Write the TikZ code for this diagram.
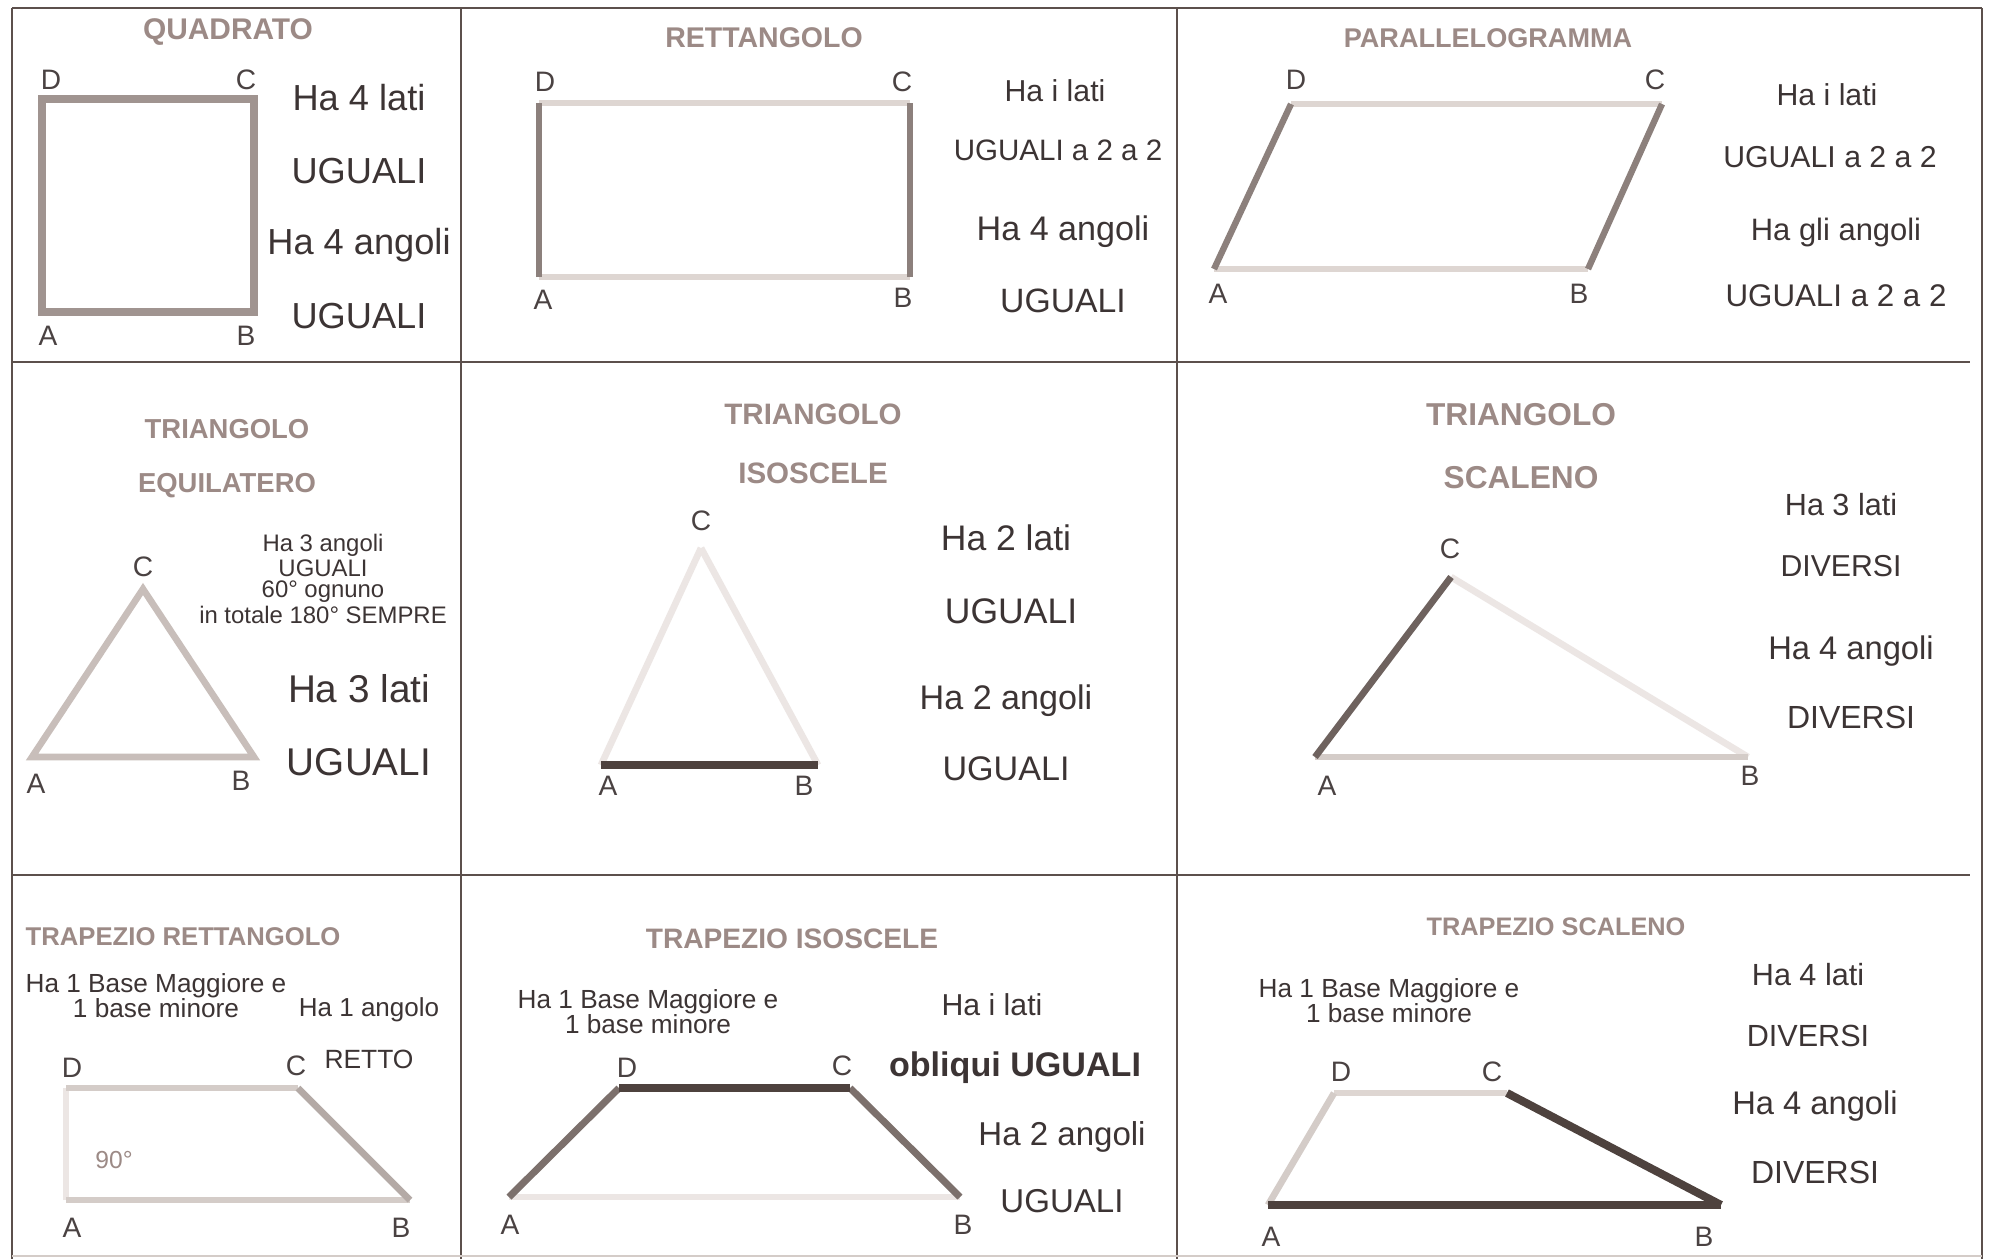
\documentclass[tikz,border=0pt]{standalone}
\usepackage{fontspec}
\setmainfont{Liberation Sans}
\definecolor{gridc}{HTML}{5C504C}
\definecolor{titlec}{HTML}{9C8A86}
\definecolor{bodyc}{HTML}{3C3434}
\definecolor{labc}{HTML}{4A4242}
\definecolor{sqc}{HTML}{A09490}
\definecolor{lite}{HTML}{DED6D2}
\definecolor{vlite}{HTML}{ECE6E4}
\definecolor{midc}{HTML}{8C807C}
\definecolor{eqc}{HTML}{C8BEBA}
\definecolor{darkc}{HTML}{4E423E}
\definecolor{dmc}{HTML}{6E625E}
\definecolor{lmc}{HTML}{D4CCC8}
\definecolor{mlc}{HTML}{B4AAA6}
\definecolor{tmc}{HTML}{7C706C}
\tikzset{
  gridline/.style={draw=gridc, line width=0.7pt},
  ttl/.style={text=titlec, font=\bfseries\fontsize{#1}{#1}\selectfont, inner sep=0pt},
  txt/.style={text=bodyc, font=\fontsize{#1}{#1}\selectfont, inner sep=0pt},
  lab/.style={text=labc, font=\fontsize{8}{8}\selectfont, inner sep=0pt},
  edge/.style={line width=#1, line cap=butt},
}
\begin{document}
\begin{tikzpicture}[x=0.01cm,y=-0.01cm]
\useasboundingbox (0,0) rectangle (1989,1259);
\fill[white] (0,0) rectangle (1989,1259);
% grid
\coordinate (g00) at (12,8); \coordinate (g30) at (1982,8);
\coordinate (g03) at (12,1259); \coordinate (g33) at (1982,1259);
\coordinate (v1t) at (461,8); \coordinate (v1b) at (461,1259);
\coordinate (v2t) at (1177,8); \coordinate (v2b) at (1177,1259);
\coordinate (h1l) at (12,362); \coordinate (h1r) at (1970,362);
\coordinate (h2l) at (12,875); \coordinate (h2r) at (1970,875);
\draw[gridline] (g00) -- (g30);
\draw[gridline] (g00) -- (g03);
\draw[gridline] (g30) -- (g33);
\draw[gridline] (v1t) -- (v1b);
\draw[gridline] (v2t) -- (v2b);
\draw[gridline] (h1l) -- (h1r);
\draw[gridline] (h2l) -- (h2r);
\draw[draw=lmc, line width=0.5pt] (12,1256) -- (1982,1256);

% ===== Cell 1: QUADRATO =====
\node[ttl=8.5] (t1) at (228,32) {QUADRATO};
\coordinate (qA) at (42,312); \coordinate (qB) at (254,312);
\coordinate (qC) at (254,99); \coordinate (qD) at (42,99);
\draw[draw=sqc, line width=2.5pt, line join=miter] (qA) -- (qB) -- (qC) -- (qD) -- cycle;
\node[lab] (qlD) at (51,80) {D};
\node[lab] (qlC) at (246,80) {C};
\node[lab] (qlA) at (48,336) {A};
\node[lab] (qlB) at (246,336) {B};
\node[txt=10.3] (q1) at (359,98) {Ha 4 lati};
\node[txt=10.3] (q2) at (359,171) {UGUALI};
\node[txt=10.3] (q3) at (359,245) {Ha 4 angoli};
\node[txt=10.3] (q4) at (359,316) {UGUALI};

% ===== Cell 2: RETTANGOLO =====
\node[ttl=8.1] (t2) at (764,38) {RETTANGOLO};
\coordinate (rA) at (539,277); \coordinate (rB) at (910,277);
\coordinate (rC) at (910,103); \coordinate (rD) at (539,103);
\draw[draw=lite, edge=1.9pt] (rD) -- (rC);
\draw[draw=lite, edge=1.9pt] (rA) -- (rB);
\draw[draw=midc, edge=1.8pt] (rA) -- (rD);
\draw[draw=midc, edge=1.8pt] (rB) -- (rC);
\node[lab] (rlD) at (545,82) {D};
\node[lab] (rlC) at (902,82) {C};
\node[lab] (rlA) at (543,300) {A};
\node[lab] (rlB) at (903,298) {B};
\node[txt=8.6] (r1) at (1055,91) {Ha i lati};
\node[txt=8.4] (r2) at (1058,150) {UGUALI a 2 a 2};
\node[txt=9.7] (r3) at (1063,232) {Ha 4 angoli};
\node[txt=9.6] (r4) at (1063,301) {UGUALI};

% ===== Cell 3: PARALLELOGRAMMA =====
\node[ttl=7.7] (t3) at (1488,38) {PARALLELOGRAMMA};
\coordinate (pA) at (1214,269); \coordinate (pB) at (1588,269);
\coordinate (pC) at (1662,104); \coordinate (pD) at (1291,104);
\draw[draw=lite, edge=1.9pt] (pD) -- (pC);
\draw[draw=lite, edge=1.9pt] (pA) -- (pB);
\draw[draw=midc, edge=1.8pt] (pA) -- (pD);
\draw[draw=midc, edge=1.8pt] (pB) -- (pC);
\node[lab] (plD) at (1296,80) {D};
\node[lab] (plC) at (1655,80) {C};
\node[lab] (plA) at (1218,294) {A};
\node[lab] (plB) at (1579,294) {B};
\node[txt=8.6] (p1) at (1827,95) {Ha i lati};
\node[txt=8.6] (p2) at (1830,157) {UGUALI a 2 a 2};
\node[txt=8.8] (p3) at (1836,232) {Ha gli angoli};
\node[txt=8.9] (p4) at (1836,296) {UGUALI a 2 a 2};

% ===== Cell 4: TRIANGOLO EQUILATERO =====
\node[ttl=7.8] (t4a) at (227,429) {TRIANGOLO};
\node[ttl=7.8] (t4b) at (227,486) {EQUILATERO};
\coordinate (eA) at (32,757); \coordinate (eB) at (254,757); \coordinate (eC) at (143,589);
\draw[draw=eqc, line width=1.9pt, line join=miter] (eA) -- (eB) -- (eC) -- cycle;
\node[lab] (elC) at (143,567) {C};
\node[lab] (elA) at (36,784) {A};
\node[lab] (elB) at (241,781) {B};
\node[txt=6.8, align=center, font=\fontsize{6.8}{6.1}\selectfont] (e0) at (323,579)
  {Ha 3 angoli\\UGUALI\\60° ognuno\\in totale 180° SEMPRE};
\node[txt=11] (e1) at (359,689) {Ha 3 lati};
\node[txt=11] (e2) at (359,762) {UGUALI};

% ===== Cell 5: TRIANGOLO ISOSCELE =====
\node[ttl=8.4] (t5a) at (813,414) {TRIANGOLO};
\node[ttl=8.4] (t5b) at (813,473) {ISOSCELE};
\coordinate (iA) at (601,765); \coordinate (iB) at (818,765); \coordinate (iC) at (701,548);
\draw[draw=vlite, edge=1.9pt] (iA) -- (iC);
\draw[draw=vlite, edge=1.9pt] (iC) -- (iB);
\draw[draw=darkc, edge=2.4pt] (iA) -- (iB);
\node[lab] (ilC) at (701,521) {C};
\node[lab] (ilA) at (608,786) {A};
\node[lab] (ilB) at (804,786) {B};
\node[txt=10.1] (i1) at (1006,538) {Ha 2 lati};
\node[txt=10.1] (i2) at (1011,611) {UGUALI};
\node[txt=9.7] (i3) at (1006,701) {Ha 2 angoli};
\node[txt=9.7] (i4) at (1006,769) {UGUALI};

% ===== Cell 6: TRIANGOLO SCALENO =====
\node[ttl=9] (t6a) at (1521,415) {TRIANGOLO};
\node[ttl=9] (t6b) at (1521,478) {SCALENO};
\coordinate (sA) at (1315,757); \coordinate (sB) at (1748,757); \coordinate (sC) at (1451,577);
\draw[draw=vlite, edge=1.9pt] (sC) -- (sB);
\draw[draw=lmc, edge=1.9pt] (sA) -- (sB);
\draw[draw=dmc, edge=1.9pt] (sA) -- (sC);
\node[lab] (slC) at (1450,549) {C};
\node[lab] (slA) at (1327,786) {A};
\node[lab] (slB) at (1750,776) {B};
\node[txt=8.7] (s1) at (1841,505) {Ha 3 lati};
\node[txt=8.6] (s2) at (1841,566) {DIVERSI};
\node[txt=9.3] (s3) at (1851,651) {Ha 4 angoli};
\node[txt=9.1] (s4) at (1851,717) {DIVERSI};

% ===== Cell 7: TRAPEZIO RETTANGOLO =====
\node[ttl=7.3, anchor=west] (t7) at (25,937) {TRAPEZIO RETTANGOLO};
\node[txt=7.45, align=center, font=\fontsize{7.45}{7.1}\selectfont] (a0) at (156,996)
  {Ha 1 Base Maggiore e\\1 base minore};
\node[txt=7.4] (a1) at (369,1010) {Ha 1 angolo};
\node[txt=7.5] (a2) at (369,1059) {RETTO};
\coordinate (aA) at (66,1200); \coordinate (aB) at (410,1200);
\coordinate (aC) at (298,1088); \coordinate (aD) at (66,1088);
\draw[draw=vlite, edge=1.9pt] (aA) -- (aD);
\draw[draw=lmc, edge=1.9pt] (aD) -- (aC);
\draw[draw=lmc, edge=1.9pt] (aA) -- (aB);
\draw[draw=mlc, edge=1.9pt] (aC) -- (aB);
\node[text=titlec, font=\fontsize{7}{7}\selectfont, inner sep=0pt] (a90) at (114,1160) {90°};
\node[lab] (alD) at (72,1068) {D};
\node[lab] (alC) at (296,1066) {C};
\node[lab] (alA) at (72,1228) {A};
\node[lab] (alB) at (401,1228) {B};

% ===== Cell 8: TRAPEZIO ISOSCELE =====
\node[ttl=8] (t8) at (792,939) {TRAPEZIO ISOSCELE};
\node[txt=7.45, align=center, font=\fontsize{7.45}{7.1}\selectfont] (b0) at (648,1012)
  {Ha 1 Base Maggiore e\\1 base minore};
\node[txt=8.6] (b1) at (992,1005) {Ha i lati};
\node[txt=9.7, font=\bfseries\fontsize{9.7}{9.7}\selectfont] (b2) at (1015,1068) {obliqui UGUALI};
\node[txt=9.4] (b3) at (1062,1137) {Ha 2 angoli};
\node[txt=9.4] (b4) at (1062,1201) {UGUALI};
\coordinate (bA) at (509,1197); \coordinate (bB) at (960,1197);
\coordinate (bC) at (850,1088); \coordinate (bD) at (619,1088);
\draw[draw=vlite, edge=1.9pt] (bA) -- (bB);
\draw[draw=tmc, edge=2pt] (bA) -- (bD);
\draw[draw=tmc, edge=2pt] (bC) -- (bB);
\draw[draw=darkc, edge=2.3pt] (bD) -- (bC);
\node[lab] (blD) at (627,1068) {D};
\node[lab] (blC) at (842,1066) {C};
\node[lab] (blA) at (510,1225) {A};
\node[lab] (blB) at (963,1225) {B};

% ===== Cell 9: TRAPEZIO SCALENO =====
\node[ttl=7.2] (t9) at (1556,927) {TRAPEZIO SCALENO};
\node[txt=7.45, align=center, font=\fontsize{7.45}{7.1}\selectfont] (c0) at (1389,1001)
  {Ha 1 Base Maggiore e\\1 base minore};
\node[txt=8.7] (c1) at (1808,975) {Ha 4 lati};
\node[txt=8.7] (c2) at (1808,1036) {DIVERSI};
\node[txt=9.3] (c3) at (1815,1106) {Ha 4 angoli};
\node[txt=9.1] (c4) at (1815,1172) {DIVERSI};
\coordinate (cA) at (1268,1205); \coordinate (cB) at (1721,1205);
\coordinate (cC) at (1507,1093); \coordinate (cD) at (1334,1093);
\draw[draw=lite, edge=1.9pt] (cD) -- (cC);
\draw[draw=lmc, edge=1.9pt] (cA) -- (cD);
\draw[draw=darkc, edge=2.3pt] (cC) -- (cB);
\draw[draw=darkc, edge=2.3pt] (cA) -- (cB);
\node[lab] (clD) at (1341,1072) {D};
\node[lab] (clC) at (1492,1072) {C};
\node[lab] (clA) at (1271,1237) {A};
\node[lab] (clB) at (1704,1237) {B};
\end{tikzpicture}
\end{document}
